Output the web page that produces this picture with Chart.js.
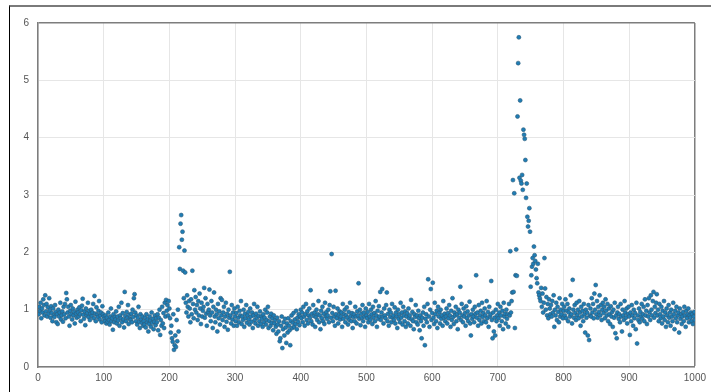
<!DOCTYPE html>
<html>
<head>
<meta charset="utf-8">
<script src="https://cdn.jsdelivr.net/npm/chart.js@4/dist/chart.umd.min.js"></script>
<style>
  html, body { margin: 0; padding: 0; background: #fff; overflow: hidden; }
  #frame { position: absolute; left: 9px; top: 5px; width: 710px; height: 400px;
           border-left: 1px solid #000; border-top: 2px solid #7a7a7a; }
  #chart { position: absolute; left: 0; top: 0; }
</style>
</head>
<body>
<div id="frame"></div>
<canvas id="chart" width="711" height="392"></canvas>
<script>
// sample values, one per index 1..1000 (20 per row)
const values = [
  0.92,1.05,0.98,1.12,0.85,1.02,0.95,1.18,1.08,0.9,1.25,0.97,1.1,0.88,1.04,0.93,1.2,0.99,0.86,1.06,
  0.94,0.8,1.02,0.9,0.87,1.08,0.96,0.78,0.92,0.75,1.0,0.88,0.95,1.12,0.83,0.9,0.97,0.79,1.05,0.92,
  1.1,0.85,1.29,1.18,0.95,1.05,0.88,0.72,0.98,1.08,0.92,0.83,1.02,0.9,0.96,0.76,1.14,0.93,0.86,1.0,
  0.95,0.88,1.04,0.92,0.8,0.99,1.07,1.19,0.91,0.84,0.97,0.73,1.02,0.9,0.94,1.12,0.87,0.98,0.82,0.93,
  1.0,0.89,0.95,1.1,0.85,1.24,0.93,0.8,1.04,0.91,0.87,0.98,1.15,0.83,0.9,0.95,0.78,1.06,0.92,0.88,
  0.84,0.8,0.9,0.76,0.86,0.79,0.95,0.82,0.74,0.88,1.02,0.8,0.85,0.65,0.92,0.78,0.87,0.83,0.97,0.76,
  0.88,0.81,1.05,0.72,0.9,0.85,1.12,0.78,0.94,0.83,0.69,1.31,0.89,0.8,0.96,0.86,1.08,0.75,0.91,0.84,
  0.82,0.93,0.78,1.0,0.87,1.2,1.27,0.95,0.8,0.9,0.74,0.86,1.05,0.79,0.68,0.92,0.83,0.77,0.88,0.72,
  0.8,0.74,0.86,0.69,0.92,0.78,0.83,0.62,0.75,0.88,0.81,0.7,0.95,0.77,0.84,0.66,0.79,0.9,0.73,0.85,
  0.78,0.92,0.64,0.86,1.0,0.56,0.82,0.72,1.05,0.76,0.94,0.68,1.12,0.88,1.17,0.98,1.08,0.9,1.15,1.02,
  0.85,0.6,0.72,0.5,0.44,0.92,0.3,0.38,0.55,0.35,0.82,0.45,1.0,0.62,2.09,1.71,2.5,2.65,2.22,2.36,
  1.68,1.2,2.03,1.65,1.12,0.95,1.25,1.05,0.88,1.15,1.02,0.78,1.18,0.92,1.68,1.1,0.85,1.34,1.0,1.22,
  0.95,1.08,0.82,1.15,0.9,1.28,1.02,0.75,1.12,0.88,0.98,1.05,1.38,0.86,1.2,0.93,0.72,1.1,0.96,1.0,
  1.35,0.9,0.8,1.15,0.95,0.68,1.05,1.3,0.88,0.78,1.0,0.92,0.62,1.1,0.85,0.97,0.74,1.2,0.9,1.17,
  0.82,0.95,1.05,0.7,0.88,1.12,0.79,0.93,0.65,1.0,0.86,1.66,0.9,0.76,1.08,0.83,0.95,0.72,1.02,0.88,
  0.8,0.94,0.72,1.05,0.86,0.78,0.98,0.9,1.15,0.75,0.88,0.82,1.0,0.7,0.93,0.85,1.08,0.77,0.9,0.96,
  0.83,0.74,1.02,0.88,0.79,0.95,0.68,0.9,1.1,0.82,0.76,0.93,0.86,1.05,0.72,0.89,0.8,0.97,0.75,0.88,
  0.84,0.7,0.92,0.78,0.86,1.0,0.74,0.82,0.95,1.05,0.68,0.8,0.88,0.72,0.93,0.77,0.85,0.64,0.9,0.76,
  0.82,0.7,0.58,0.86,0.74,0.62,0.8,0.45,0.5,0.72,0.88,0.33,0.66,0.78,0.55,0.84,0.69,0.42,0.76,0.6,
  0.85,0.72,0.64,0.38,0.8,0.9,0.68,0.77,0.94,0.7,0.83,0.75,0.98,0.66,0.86,0.79,0.92,0.73,0.88,1.0,
  0.85,0.95,0.78,1.05,0.88,0.72,0.92,1.1,0.82,0.97,0.76,0.9,1.02,0.86,1.34,0.8,0.93,0.74,1.08,0.89,
  0.95,0.7,0.87,1.0,0.82,0.92,1.15,0.78,0.9,0.66,0.98,0.85,1.05,0.8,0.93,0.75,1.12,0.88,0.96,0.84,
  0.9,1.0,0.78,1.08,1.32,0.86,1.97,0.94,0.8,1.05,0.88,0.72,1.33,0.92,0.85,1.02,0.76,0.9,0.97,0.83,
  0.88,0.95,0.7,1.1,0.84,0.92,1.0,0.78,0.9,1.04,0.86,0.74,0.96,0.82,1.12,0.89,0.8,0.94,0.68,0.87,
  0.92,0.8,1.05,0.88,0.76,0.97,0.9,1.46,0.84,1.0,0.73,0.93,0.86,1.08,0.8,0.95,0.88,0.7,1.02,0.9,
  0.85,0.96,0.78,1.1,0.88,0.82,1.0,0.92,0.75,1.05,0.86,0.94,0.8,1.15,0.9,0.7,0.98,0.84,1.06,0.88,
  1.31,0.82,0.95,1.36,0.88,0.76,1.02,0.9,0.85,1.08,1.3,0.8,0.93,0.72,1.0,0.87,0.95,0.78,1.1,0.86,
  0.9,0.82,1.04,0.76,0.95,0.88,0.68,1.0,0.84,0.92,0.78,1.12,0.86,0.95,0.74,1.05,0.9,0.8,0.97,0.7,
  0.88,0.94,0.76,1.02,0.85,0.9,0.72,1.17,0.83,0.96,0.8,0.66,0.92,0.87,1.08,0.78,0.9,0.74,0.98,0.85,
  0.64,0.9,0.8,0.5,0.86,0.95,0.72,1.05,0.38,0.84,0.92,0.78,1.1,1.53,0.88,0.7,1.0,1.36,0.82,0.94,
  1.47,0.86,0.75,1.12,0.92,0.8,0.98,0.68,1.05,0.88,0.95,0.76,1.0,0.84,0.9,0.72,1.15,0.86,0.93,0.8,
  0.88,1.02,0.76,0.94,0.85,1.08,0.9,0.7,0.98,0.82,1.2,0.87,0.75,0.95,0.9,1.05,0.8,0.92,0.66,1.0,
  0.86,0.95,1.4,0.82,1.1,0.9,0.78,1.02,0.88,0.94,0.72,1.06,0.85,0.97,0.8,0.9,1.14,0.76,0.55,0.92,
  0.84,1.0,0.88,0.78,1.05,0.93,1.6,0.86,0.95,0.72,1.08,0.82,0.9,0.98,0.76,1.12,0.87,0.94,0.8,1.02,
  0.9,0.78,1.15,0.85,0.96,0.7,1.05,0.88,0.92,1.5,0.82,0.5,0.95,0.62,0.86,0.55,1.0,0.8,0.9,1.1,
  0.85,0.95,0.72,1.05,0.9,0.8,0.98,0.66,1.12,0.88,0.93,0.76,1.0,0.84,0.92,0.7,1.1,0.9,2.02,0.95,
  1.15,1.3,3.26,1.31,3.03,0.68,1.6,2.05,1.59,4.37,5.3,5.75,3.3,4.65,3.25,3.2,3.35,3.09,4.14,4.05,
  3.98,3.61,2.95,3.2,2.62,2.45,2.55,2.77,2.36,1.4,1.6,1.75,1.9,1.8,2.1,1.95,1.85,1.7,1.55,1.46,
  1.8,1.3,1.25,1.2,1.15,1.38,1.05,1.28,0.95,1.12,1.9,1.37,1.0,1.22,0.9,1.1,0.85,1.18,1.02,0.92,
  1.08,0.88,1.15,0.95,1.25,0.7,1.0,0.9,1.12,0.82,1.05,0.96,0.78,1.2,0.88,1.0,0.92,1.1,0.85,0.98,
  1.05,0.9,1.18,0.85,0.98,1.1,0.8,0.95,1.02,0.88,1.25,0.92,0.76,1.52,1.0,0.86,1.08,0.94,0.82,1.12,
  0.9,1.0,0.85,1.15,0.95,0.72,1.05,0.88,0.98,0.8,1.1,0.92,0.6,1.0,0.86,0.95,0.55,1.08,0.47,0.9,
  1.02,0.88,1.2,0.95,1.1,0.85,1.28,1.0,1.43,0.92,1.15,0.86,1.05,0.96,1.25,0.9,1.08,0.82,1.0,1.12,
  0.94,1.05,0.85,1.18,0.98,0.9,1.1,0.8,1.02,0.92,0.75,1.06,0.88,0.96,0.7,1.0,0.86,1.12,0.59,0.9,
  0.5,0.95,1.05,0.84,0.92,0.78,1.1,0.88,0.62,1.0,0.9,0.82,1.15,0.95,0.86,1.02,0.76,0.92,1.05,0.88,
  0.56,0.95,0.8,1.08,0.9,0.72,1.0,0.85,0.94,0.66,1.12,0.41,0.9,0.82,1.02,0.78,0.96,0.88,1.1,0.84,
  0.92,1.05,0.8,1.18,0.9,0.98,0.75,1.08,0.88,1.2,0.95,0.82,1.25,1.0,0.9,1.15,1.31,0.86,1.05,0.94,
  1.12,1.27,0.9,1.0,0.8,1.1,0.92,0.85,1.05,0.76,0.98,0.88,1.15,0.82,0.95,0.7,1.02,0.9,0.78,1.08,
  0.86,0.95,0.72,1.0,0.88,0.8,1.12,0.92,0.66,0.98,0.85,1.05,0.78,0.9,0.95,0.6,1.02,0.84,0.92,0.75,
  0.88,0.96,0.8,1.05,0.9,0.7,0.98,0.85,0.92,1.02,0.78,0.9,0.86,0.95,0.8,0.92,0.75,0.88,0.96,0.82
];
const xTicks = [0, 100, 200, 300, 400, 500, 600, 700, 800, 900, 1000];
const yTicks = [0, 1, 2, 3, 4, 5, 6];

const points = values.map((v, i) => ({ x: i + 1, y: v }));

const tickFont = { family: 'Liberation Sans, Arial, sans-serif', size: 10 };
const gridColor = '#e6e6e6';
const boxColor = '#7d7d7d';

// the top and right sides of the box are the last grid lines, drawn darker
const edgeColor = (max) => (ctx) => (ctx.tick && ctx.tick.value === max ? boxColor : gridColor);
const edgeWidth = (max) => (ctx) => (ctx.tick && ctx.tick.value === max ? 1.5 : 1);

new Chart(document.getElementById('chart'), {
  type: 'scatter',
  data: {
    datasets: [{
      data: points,
      pointRadius: 2,
      pointBackgroundColor: '#1f7db5',
      pointBorderColor: '#2b5a78',
      pointBorderWidth: 0.6
    }]
  },
  options: {
    responsive: false,
    animation: false,
    layout: { padding: { top: 23, right: 13, left: 0, bottom: 0 } },
    plugins: { legend: { display: false }, tooltip: { enabled: false } },
    scales: {
      x: {
        type: 'linear', min: 0, max: 1000,
        afterBuildTicks: s => { s.ticks = xTicks.map(v => ({ value: v })); },
        afterFit: s => { s.height = 25; },
        grid: { color: edgeColor(1000), lineWidth: edgeWidth(1000), drawTicks: false },
        border: { color: boxColor, width: 1.5 },
        ticks: { color: '#555', font: tickFont, padding: 5, maxRotation: 0,
                 callback: v => String(v) }
      },
      y: {
        type: 'linear', min: 0, max: 6,
        afterBuildTicks: s => { s.ticks = yTicks.map(v => ({ value: v })); },
        afterFit: s => { s.width = 38; },
        grid: { color: edgeColor(6), lineWidth: edgeWidth(6), drawTicks: false },
        border: { color: boxColor, width: 1.5 },
        ticks: { color: '#555', font: tickFont, padding: 9, callback: v => String(v) }
      }
    }
  }
});
</script>
</body>
</html>
